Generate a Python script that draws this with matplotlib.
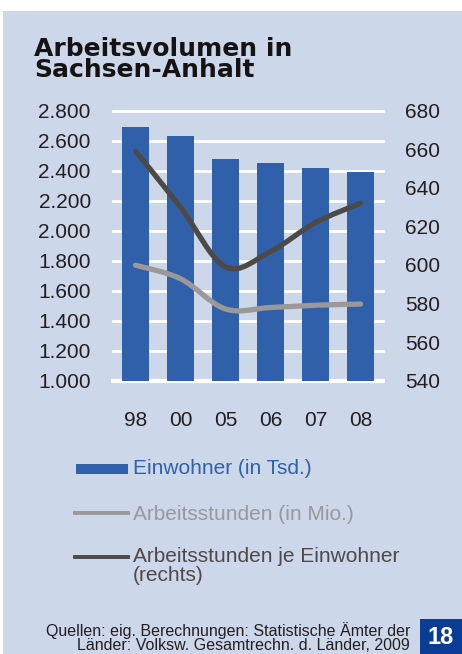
import matplotlib
matplotlib.use("Agg")
import matplotlib.pyplot as plt
from matplotlib.patches import Rectangle, PathPatch
from matplotlib.path import Path
from matplotlib.lines import Line2D

plt.rcParams['font.family'] = ['Liberation Sans', 'DejaVu Sans']

# Daten
jahre = ["98", "00", "05", "06", "07", "08"]
einwohner = [2690, 2632, 2478, 2452, 2421, 2393]          # Tsd., linke Achse
arbeitsstunden = [1770, 1680, 1478, 1488, 1503, 1511]     # Mio., linke Achse
stunden_je_einwohner = [659, 630, 599, 607, 622, 632]     # rechte Achse

links_ticks = [1000, 1200, 1400, 1600, 1800, 2000, 2200, 2400, 2600, 2800]
rechts_ticks = [540, 560, 580, 600, 620, 640, 660, 680]

HG = "#CCD7E9"
BLAU = "#3060AA"
GRAU = "#9A9898"
DUNKEL = "#4D4948"
TEXT = "#231F20"

W, H = 462, 654


def glatte_kurve(xs, ys):
    """Bezier-Pfad durch die Punkte (wie Excel 'geglättete Linie')."""
    pts = list(zip(xs, ys))
    n = len(pts)
    verts = [pts[0]]
    codes = [Path.MOVETO]
    for i in range(n - 1):
        p0 = pts[i - 1] if i > 0 else pts[i]
        p1 = pts[i]
        p2 = pts[i + 1]
        p3 = pts[i + 2] if i + 2 < n else pts[i + 1]
        c1 = (p1[0] + (p2[0] - p0[0]) / 6, p1[1] + (p2[1] - p0[1]) / 6)
        c2 = (p2[0] - (p3[0] - p1[0]) / 6, p2[1] - (p3[1] - p1[1]) / 6)
        verts += [c1, c2, p2]
        codes += [Path.CURVE4] * 3
    return Path(verts, codes)


fig = plt.figure(figsize=(W / 100, H / 100), dpi=100)
fig.patch.set_facecolor("white")

# Hintergrundfeld
fig.add_artist(Rectangle((3 / W, 0), 1 - 3 / W, (H - 11) / H,
                         transform=fig.transFigure, facecolor=HG,
                         edgecolor="none", zorder=0))

# Titel
fig.text(34 / W, 1 - 37 / H, "Arbeitsvolumen in\nSachsen-Anhalt",
         fontsize=18, fontweight="bold", family="DejaVu Sans",
         color="#151313", va="top", ha="left", linespacing=0.86)

links, rechts = 113 / W, 383 / W
unten, oben = 1 - 380.7 / H, 1 - 110.7 / H
ax1 = fig.add_axes([links, unten, rechts - links, oben - unten])
ax1.patch.set_visible(False)
x = list(range(len(jahre)))

ax1.bar(x, einwohner, width=0.62, color=BLAU, zorder=3)
ax1.set_xlim(-0.5, len(jahre) - 0.5)
ax1.set_ylim(1000, 2800)
ax1.set_yticks(links_ticks)
ax1.set_yticklabels([f"{v:,}".replace(",", ".") for v in links_ticks])
ax1.set_xticks(x)
ax1.set_xticklabels(jahre)
for v in links_ticks:
    ax1.axhline(v, color="white", lw=3.0 if v == 1000 else 2.0, zorder=1,
                clip_on=False)
for s in ax1.spines.values():
    s.set_visible(False)
ax1.tick_params(axis="y", length=0, pad=16, labelsize=15, labelcolor=TEXT)
ax1.tick_params(axis="x", length=0, pad=22, labelsize=15, labelcolor=TEXT)

ax1.add_patch(PathPatch(glatte_kurve(x, arbeitsstunden), fill=False,
                        edgecolor=GRAU, lw=3.8, capstyle="round", zorder=4))

ax2 = ax1.twinx()
ax2.patch.set_visible(False)
ax2.set_ylim(540, 680)
ax2.set_yticks(rechts_ticks)
for s in ax2.spines.values():
    s.set_visible(False)
ax2.tick_params(axis="y", length=0, pad=16, labelsize=15, labelcolor=TEXT)
ax2.add_patch(PathPatch(glatte_kurve(x, stunden_je_einwohner), fill=False,
                        edgecolor=DUNKEL, lw=3.8, capstyle="round", zorder=4))

# Legende
fig.add_artist(Rectangle((76 / W, 1 - 474 / H), 52 / W, 10 / H,
                         transform=fig.transFigure, facecolor=BLAU,
                         edgecolor="none"))
fig.text(133 / W, 1 - 469 / H, "Einwohner (in Tsd.)", fontsize=15,
         color=BLAU, va="center", ha="left")
fig.add_artist(Line2D([75 / W, 128 / W], [1 - 512.7 / H] * 2,
                      transform=fig.transFigure, color=GRAU, lw=2.8))
fig.text(133 / W, 1 - 514 / H, "Arbeitsstunden (in Mio.)", fontsize=15,
         color=GRAU, va="center", ha="left")
fig.add_artist(Line2D([75 / W, 128 / W], [1 - 557 / H] * 2,
                      transform=fig.transFigure, color=DUNKEL, lw=2.8))
fig.text(133 / W, 1 - 547 / H, "Arbeitsstunden je Einwohner\n(rechts)",
         fontsize=15, color=DUNKEL, va="top", ha="left", linespacing=1.0)

# Quelle
fig.text(410 / W, 1 - 622 / H,
         "Quellen: eig. Berechnungen: Statistische Ämter der\n"
         "Länder: Volksw. Gesamtrechn. d. Länder, 2009",
         fontsize=11.5, color=TEXT, va="top", ha="right", linespacing=0.92)

# Seitenzahl
fig.add_artist(Rectangle((420 / W, 0), 42 / W, 35 / H,
                         transform=fig.transFigure, facecolor="#0A3C94",
                         edgecolor="none"))
fig.text(441 / W, 16 / H, "18", fontsize=17, fontweight="bold",
         color="white", va="center", ha="center")

fig.savefig("out.png", dpi=100)
